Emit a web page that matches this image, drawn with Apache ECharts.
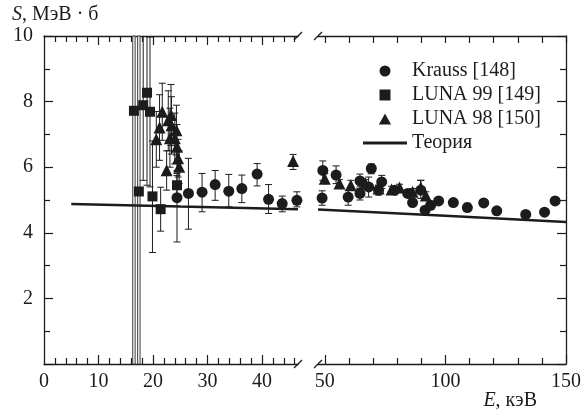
<!DOCTYPE html>
<html><head><meta charset="utf-8">
<script src="https://cdn.jsdelivr.net/npm/echarts@6/dist/echarts.min.js"></script>
<style>html,body{margin:0;padding:0;background:#fff}#c{width:584px;height:417px}</style>
</head><body><div id="c"></div>
<script>
// ---- axis ranges & ticks ----
const xLeftRange = [0, 46.6];
const xRightRange = [47.2, 150];
const yRange = [0, 10];
const xLeftLabels = [0, 10, 20, 30, 40];
const xLeftMajor = [10, 20, 30, 40];
const xLeftMinor = [2, 4, 6, 8, 12, 14, 16, 18, 22, 24, 26, 28, 32, 34, 36, 38, 42, 44, 46];
const xRightLabels = [50, 100, 150];
const xRightMajor = [50, 100, 150];
const xRightMinor = [60, 70, 80, 90, 110, 120, 130, 140];

// ---- data: [E (keV), S (MeV·b), S low, S high] ----
const krauss = [
  [24.4, 5.07, 3.72, 5.81], [26.5, 5.20, 4.11, 6.27], [29.0, 5.24, 4.64, 5.81],
  [31.4, 5.47, 4.99, 5.90], [33.9, 5.27, 4.79, 5.78], [36.3, 5.35, 4.92, 5.76],
  [39.1, 5.79, 5.43, 6.11], [41.2, 5.02, 4.59, 5.47], [43.7, 4.89, 4.64, 5.12],
  [46.4, 4.99, 4.79, 5.25],
  [48.9, 5.06, 4.84, 5.28], [49.2, 5.90, 5.60, 6.19], [54.7, 5.76, 5.50, 6.04],
  [59.7, 5.09, 4.84, 5.30], [64.6, 5.58, 5.35, 5.79], [64.6, 5.20, 5.00, 5.40],
  [69.3, 5.96, 5.80, 6.10], [68.2, 5.40, 5.09, 5.70], [72.3, 5.30, 5.15, 5.45],
  [73.6, 5.55, 5.35, 5.75], [79.0, 5.30, 5.20, 5.40], [84.4, 5.20, 5.10, 5.30],
  [86.4, 4.92, 4.85, 5.00], [89.8, 5.30, 5.05, 5.60], [91.6, 4.69, 4.60, 4.78],
  [93.9, 4.84, 4.75, 4.92], [97.2, 4.97, 4.90, 5.05], [103.3, 4.92, 4.85, 5.00],
  [109.1, 4.77, 4.65, 4.90], [115.9, 4.91, 4.85, 4.98], [121.3, 4.67, 4.60, 4.75],
  [133.3, 4.56, 4.50, 4.62], [141.1, 4.63, 4.57, 4.70], [145.5, 4.97, 4.90, 5.05]
];
const luna99 = [
  [16.5, 7.72, -1, 11], [17.4, 5.26, -1, 11], [18.2, 7.89, 5.6, 10.5],
  [18.9, 8.27, 5.45, 11], [19.45, 7.69, 5.4, 9.97], [19.9, 5.11, 3.4, 6.8],
  [21.4, 4.72, 4.05, 5.39], [24.4, 5.45, 5.15, 5.75]
];
const luna98 = [
  [20.6, 6.85, 6.0, 7.7], [21.2, 7.21, 6.21, 8.21], [21.7, 7.69, 6.82, 8.56],
  [22.5, 5.91, 5.3, 6.5], [22.8, 7.43, 6.5, 8.33], [23.1, 6.88, 6.0, 7.8],
  [23.3, 7.59, 6.66, 8.52], [23.4, 7.28, 6.4, 8.15], [24.0, 6.88, 6.1, 7.65],
  [24.3, 7.13, 6.37, 7.89], [24.4, 6.62, 5.9, 7.3], [24.6, 6.27, 5.7, 6.85],
  [24.8, 6.01, 5.5, 6.5], [45.7, 6.19, 5.93, 6.39],
  [50.0, 5.65, 5.5, 5.8], [56.1, 5.50, 5.38, 5.62], [60.8, 5.45, 5.3, 5.6],
  [66.9, 5.50, 5.38, 5.62], [72.3, 5.35, 5.25, 5.45], [77.7, 5.32, 5.22, 5.42],
  [81.0, 5.38, 5.28, 5.48], [86.4, 5.25, 5.15, 5.35], [89.8, 5.38, 5.25, 5.6],
  [91.9, 5.14, 5.05, 5.25]
];
const theory = [[5, 4.88], [25, 4.80], [46.6, 4.72], [47.2, 4.71], [100, 4.52], [150, 4.33]];

// ---- styling ----
const FONT = 'Liberation Serif';
const INK = '#1c1c1c';
const GT = 36, GH = 328, GW = 254, GL0 = 44, GL1 = 318;

const inLeft = p => p[0] <= xLeftRange[1];
const inRight = p => p[0] >= xRightRange[0];

function xAxis(grid, pos, range, ticks, len, labels, line) {
  return {
    type: 'value', gridIndex: grid, position: pos, min: range[0], max: range[1],
    axisLine: { show: line, onZero: false, lineStyle: { color: INK, width: 1.3 } },
    axisTick: { show: true, inside: true, length: len, customValues: ticks, lineStyle: { color: INK, width: 1.2 } },
    axisLabel: labels ? { show: true, customValues: labels, margin: 8, fontFamily: FONT, fontSize: 20, color: INK }
                      : { show: false },
    splitLine: { show: false }
  };
}
function yAxis(grid, pos, labels) {
  return {
    type: 'value', gridIndex: grid, position: pos, min: yRange[0], max: yRange[1], interval: 2,
    axisLine: { show: true, onZero: false, lineStyle: { color: INK, width: 1.3 } },
    axisTick: { show: true, inside: true, length: 9, lineStyle: { color: INK, width: 1.2 } },
    minorTick: { show: true, splitNumber: 2, length: 6, lineStyle: { color: INK, width: 1.2 } },
    axisLabel: labels ? { show: true, showMinLabel: false, margin: 11, fontFamily: FONT, fontSize: 20, color: INK }
                      : { show: false },
    splitLine: { show: false }, minorSplitLine: { show: false }
  };
}

function errBar(params, api) {
  const x = api.value(0), lo = api.value(1), hi = api.value(2);
  const loC = Math.max(lo, yRange[0]), hiC = Math.min(hi, yRange[1]);
  const p1 = api.coord([x, loC]), p2 = api.coord([x, hiC]);
  const st = { stroke: INK, lineWidth: 1 };
  const ch = [];
  if (hi - lo > 8) {
    ch.push({ type: 'rect', shape: { x: p1[0] - 1.25, y: p2[1], width: 2.5, height: p1[1] - p2[1] },
              style: { fill: '#ececec', stroke: '#333', lineWidth: 0.9 } });
  } else {
    ch.push({ type: 'line', shape: { x1: p1[0], y1: p1[1], x2: p2[0], y2: p2[1] }, style: st });
  }
  const w = 3.5;
  if (lo >= yRange[0]) ch.push({ type: 'line', shape: { x1: p1[0] - w, y1: p1[1], x2: p1[0] + w, y2: p1[1] }, style: st });
  if (hi <= yRange[1]) ch.push({ type: 'line', shape: { x1: p2[0] - w, y1: p2[1], x2: p2[0] + w, y2: p2[1] }, style: st });
  return { type: 'group', children: ch };
}

const seriesDefs = [
  { name: 'Krauss [148]', data: krauss, symbol: 'circle', size: 11 },
  { name: 'LUNA 99 [149]', data: luna99, symbol: 'rect', size: 10 },
  { name: 'LUNA 98 [150]', data: luna98, symbol: 'triangle', size: 12 }
];
const panels = [
  { filter: inLeft, xi: 0, yi: 0 },
  { filter: inRight, xi: 4, yi: 1 }
];

const series = [];
panels.forEach(pn => {
  seriesDefs.forEach(sd => {
    const pts = sd.data.filter(pn.filter);
    series.push({
      type: 'custom', xAxisIndex: pn.xi, yAxisIndex: pn.yi, renderItem: errBar, silent: true,
      data: pts.map(p => [p[0], p[2], p[3]]), encode: { x: 0, y: [1, 2] }, z: 2
    });
  });
  seriesDefs.forEach(sd => {
    const pts = sd.data.filter(pn.filter);
    series.push({
      type: 'scatter', name: sd.name, xAxisIndex: pn.xi, yAxisIndex: pn.yi,
      symbol: sd.symbol, symbolSize: sd.size, itemStyle: { color: INK, opacity: 1 },
      data: pts.map(p => [p[0], p[1]]), z: 4, silent: true
    });
  });
  series.push({
    type: 'line', name: 'Теория', xAxisIndex: pn.xi, yAxisIndex: pn.yi, smooth: false,
    showSymbol: false, symbol: 'none', lineStyle: { color: INK, width: 2.6 }, itemStyle: { color: INK },
    data: theory.filter(pn.filter), z: 3, silent: true
  });
});

function slash(cx, cy) {
  return { type: 'line', shape: { x1: cx - 4, y1: cy + 4, x2: cx + 4, y2: cy - 4 },
           style: { stroke: INK, lineWidth: 1.3 }, z: 10 };
}

const option = {
  animation: false,
  backgroundColor: '#fff',
  grid: [
    { left: GL0, top: GT, width: GW, height: GH },
    { left: GL1, top: GT, width: GW, height: GH }
  ],
  xAxis: [
    xAxis(0, 'bottom', xLeftRange, xLeftMajor, 9, xLeftLabels, true),
    xAxis(0, 'bottom', xLeftRange, xLeftMinor, 6, null, false),
    xAxis(0, 'top', xLeftRange, xLeftMajor, 9, null, true),
    xAxis(0, 'top', xLeftRange, xLeftMinor, 6, null, false),
    xAxis(1, 'bottom', xRightRange, xRightMajor, 9, xRightLabels, true),
    xAxis(1, 'bottom', xRightRange, xRightMinor, 6, null, false),
    xAxis(1, 'top', xRightRange, xRightMajor, 7, null, true),
    xAxis(1, 'top', xRightRange, xRightMinor, 7, null, false)
  ],
  yAxis: [ yAxis(0, 'left', true), yAxis(1, 'right', false) ],
  legend: {
    orient: 'vertical', left: 363, top: 61, padding: 0, itemGap: 4,
    itemWidth: 44, itemHeight: 11, symbolKeepAspect: true, selectedMode: false,
    textStyle: { fontFamily: FONT, fontSize: 20, color: INK },
    data: [
      { name: 'Krauss [148]', icon: 'path://M5,0A5,5,0,1,1,5,10A5,5,0,1,1,5,0Z' },
      { name: 'LUNA 99 [149]', icon: 'path://M0,0H9V9H0Z' },
      { name: 'LUNA 98 [150]', icon: 'path://M5,0L10,9H0Z' },
      { name: 'Теория', icon: 'path://M0,0H40V2.6H0Z' }
    ]
  },
  graphic: [
    slash(GL0 + GW, GT + GH), slash(GL0 + GW, GT),
    slash(GL1, GT + GH), slash(GL1, GT),
    { type: 'text', left: 12, top: 5, z: 10,
      style: { text: '{i|S}, МэВ · б', font: '20px "Liberation Serif"', fill: INK,
               rich: { i: { fontStyle: 'italic', fontFamily: FONT, fontSize: 20, fill: INK } } } },
    { type: 'text', right: 584 - 537, top: 391, z: 10,
      style: { text: '{i|E}, кэВ', font: '20px "Liberation Serif"', fill: INK,
               rich: { i: { fontStyle: 'italic', fontFamily: FONT, fontSize: 20, fill: INK } } } }
  ],
  series: series
};

const chart = echarts.init(document.getElementById('c'), null, { renderer: 'canvas' });
chart.setOption(option);
</script>
</body></html>
